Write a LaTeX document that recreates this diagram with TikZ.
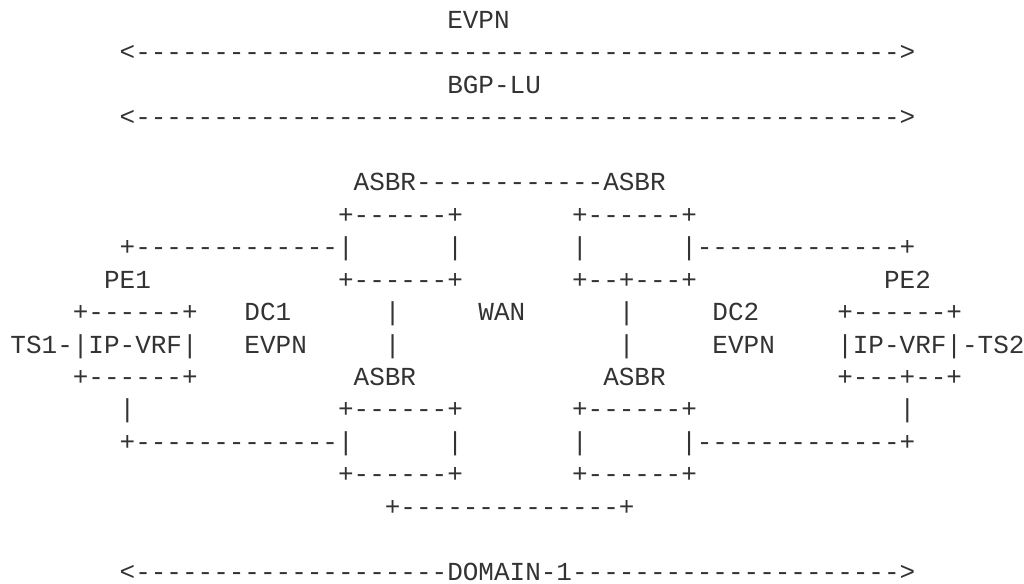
\documentclass[tikz,border=0pt]{standalone}
\usepackage{fontspec}
\setmonofont{Liberation Mono}
\usepackage{tikz}

\definecolor{ink}{RGB}{51,51,51}

\begin{document}
\begin{tikzpicture}[x=7.8pt, y=-16.235pt,
  every node/.style={font=\ttfamily\fontsize{13pt}{16pt}\selectfont, text=ink,
    inner sep=0pt, outer sep=0pt, anchor=base west}]
\useasboundingbox (-0.673,-0.8716) rectangle (64.97,17.114);

% top spans
\node (evpn) at (28,0) {EVPN};
\node (evpnspan) at (7,1) {<------------------------------------------------->};
\node (bgplu) at (28,2) {BGP-LU};
\node (bgpluspan) at (7,3) {<------------------------------------------------->};

% upper ASBRs
\node (asbrup) at (22,5) {ASBR------------ASBR};
\node (asbrulA) at (21,6) {+------+};
\node (asbrurA) at (36,6) {+------+};
\node (linkul) at (7,7) {+-------------|};
\node (asbrulB) at (28,7) {|};
\node (asbrurB) at (36,7) {|};
\node (linkur) at (43,7) {|-------------+};
\node (peone) at (6,8) {PE1};
\node (asbrulC) at (21,8) {+------+};
\node (asbrurC) at (36,8) {+--+---+};
\node (petwo) at (56,8) {PE2};

% middle
\node (peoneA) at (4,9) {+------+};
\node (dcone) at (15,9) {DC1};
\node (vlA) at (24,9) {|};
\node (wan) at (30,9) {WAN};
\node (vrA) at (39,9) {|};
\node (dctwo) at (45,9) {DC2};
\node (petwoA) at (53,9) {+------+};

\node (peoneB) at (0,10) {TS1-|IP-VRF|};
\node (dconeevpn) at (15,10) {EVPN};
\node (vlB) at (24,10) {|};
\node (vrB) at (39,10) {|};
\node (dctwoevpn) at (45,10) {EVPN};
\node (petwoB) at (53,10) {|IP-VRF|-TS2};

\node (peoneC) at (4,11) {+------+};
\node (asbrll) at (22,11) {ASBR};
\node (asbrlr) at (38,11) {ASBR};
\node (petwoC) at (53,11) {+---+--+};

% lower ASBRs
\node (drpl) at (7,12) {|};
\node (asbrllA) at (21,12) {+------+};
\node (asbrlrA) at (36,12) {+------+};
\node (drpr) at (57,12) {|};
\node (linkll) at (7,13) {+-------------|};
\node (asbrllB) at (28,13) {|};
\node (asbrlrB) at (36,13) {|};
\node (linklr) at (43,13) {|-------------+};
\node (asbrllC) at (21,14) {+------+};
\node (asbrlrC) at (36,14) {+------+};
\node (wanlow) at (24,15) {+--------------+};

% domain
\node (domain) at (7,17) {<--------------------DOMAIN-1--------------------->};
\end{tikzpicture}
\end{document}
